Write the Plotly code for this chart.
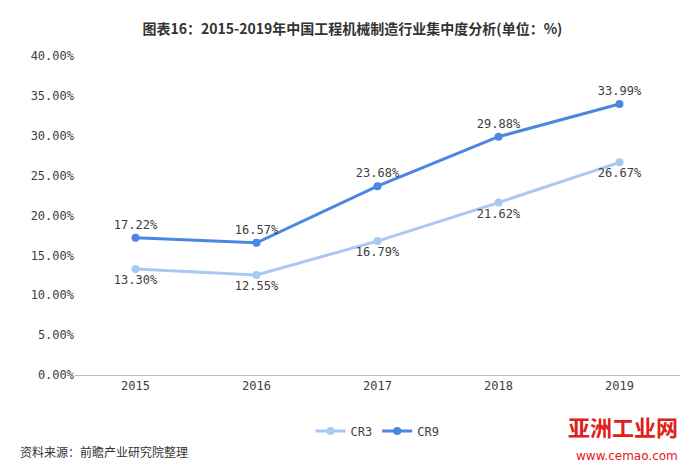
import plotly.graph_objects as go

years = ["2015", "2016", "2017", "2018", "2019"]
cr3 = [13.30, 12.55, 16.79, 21.62, 26.67]
cr9 = [17.22, 16.57, 23.68, 29.88, 33.99]
yticks = [0, 5, 10, 15, 20, 25, 30, 35, 40]

fig = go.Figure()
fig.add_trace(go.Scatter(x=years, y=cr3, name="CR3", mode="lines+markers+text",
    line=dict(color="#a9c8f4", width=3), marker=dict(size=8, color="#a9c8f4"),
    text=[f"{v:.2f}%" for v in cr3], textposition="bottom center",
    textfont=dict(size=12, color="#404040", family="DejaVu Sans Mono")))
fig.add_trace(go.Scatter(x=years, y=cr9, name="CR9", mode="lines+markers+text",
    line=dict(color="#4a86e2", width=3), marker=dict(size=8, color="#4a86e2"),
    text=[f"{v:.2f}%" for v in cr9], textposition="top center",
    textfont=dict(size=12, color="#404040", family="DejaVu Sans Mono")))

fig.update_layout(
    width=689, height=468, plot_bgcolor="white", paper_bgcolor="white",
    margin=dict(l=67, r=17, t=48, b=101),
    title=dict(text="<b>图表16：2015-2019年中国工程机械制造行业集中度分析(单位：%)</b>",
               x=0.5, xanchor="center", y=0.965, font=dict(size=14, color="#333", family="Noto Sans CJK SC")),
    xaxis=dict(range=[-0.5, 4.5], showline=True, linecolor="#bfbfbf", ticks="",
               tickfont=dict(size=12, color="#404040", family="DejaVu Sans Mono")),
    yaxis=dict(range=[0, 40], tickvals=yticks, ticktext=[f"{v:.2f}%" for v in yticks],
               showgrid=False, zeroline=False, tickfont=dict(size=12, color="#404040", family="DejaVu Sans Mono")),
    legend=dict(orientation="h", x=0.5, xanchor="center", y=-0.13, yanchor="top",
                font=dict(size=12, color="#404040", family="DejaVu Sans Mono")),
    annotations=[
        dict(text="资料来源：前瞻产业研究院整理", xref="paper", yref="paper", x=-0.095, y=-0.24,
             xanchor="left", yanchor="middle", showarrow=False, font=dict(size=12, color="#333", family="Noto Sans CJK SC")),
        dict(text="<b>亚洲工业网</b>", xref="paper", yref="paper", x=1.0, y=-0.16,
             xanchor="right", yanchor="middle", showarrow=False, font=dict(size=22, color="#e0201a", family="Noto Sans CJK SC")),
        dict(text="www.cemao.com", xref="paper", yref="paper", x=1.0, y=-0.255,
             xanchor="right", yanchor="middle", showarrow=False, font=dict(size=12, color="#e0201a", family="DejaVu Sans")),
    ],
)
fig.write_html("out.html")
